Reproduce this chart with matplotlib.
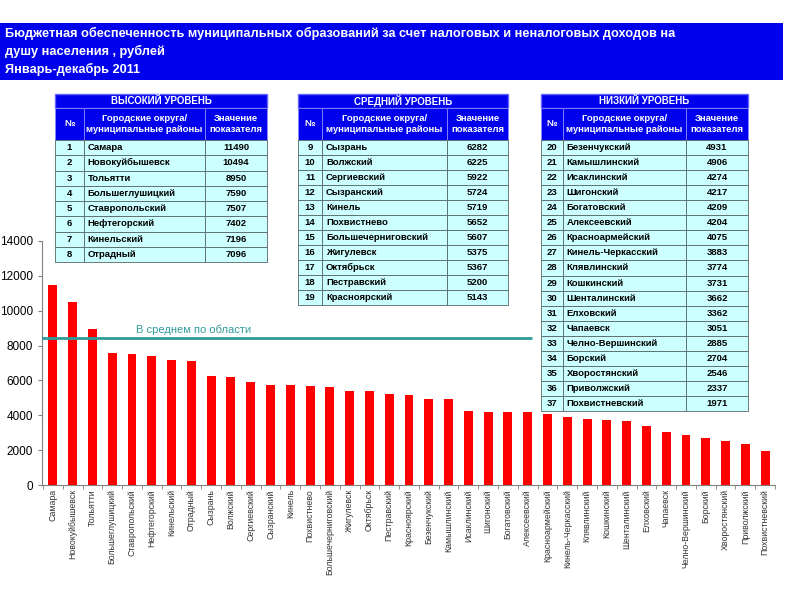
import matplotlib
matplotlib.use("Agg")
import matplotlib.pyplot as plt

plt.rcParams["font.family"] = ["Liberation Sans", "DejaVu Sans"]

# Городские округа / муниципальные районы и значение показателя, руб.
names = ["Самара", "Новокуйбышевск", "Тольятти", "Большеглушицкий", "Ставропольский",
         "Нефтегорский", "Кинельский", "Отрадный", "Сызрань", "Волжский",
         "Сергиевский", "Сызранский", "Кинель", "Похвистнево", "Большечерниговский",
         "Жигулевск", "Октябрьск", "Пестравский", "Красноярский", "Безенчукский",
         "Камышлинский", "Исаклинский", "Шигонский", "Богатовский", "Алексеевский",
         "Красноармейский", "Кинель-Черкасский", "Клявлинский", "Кошкинский",
         "Шенталинский", "Елховский", "Чапаевск", "Челно-Вершинский", "Борский",
         "Хворостянский", "Приволжский", "Похвистневский"]
values = [11490, 10494, 8950, 7590, 7507, 7402, 7196, 7096, 6282, 6225,
          5922, 5724, 5719, 5652, 5607, 5375, 5367, 5200, 5143, 4931,
          4906, 4274, 4217, 4209, 4204, 4075, 3883, 3774, 3731, 3662,
          3362, 3051, 2885, 2704, 2546, 2337, 1971]
mean_value = 8420
mean_label = "В среднем по области"

groups = [("ВЫСОКИЙ УРОВЕНЬ", 0, 8), ("СРЕДНИЙ УРОВЕНЬ", 8, 19), ("НИЗКИЙ УРОВЕНЬ", 19, 37)]
col_labels = ["№", "Городские округа/\nмуниципальные районы", "Значение\nпоказателя"]

title_lines = ("Бюджетная обеспеченность муниципальных образований за счет налоговых и неналоговых доходов на\n"
               "душу населения , рублей\nЯнварь-декабрь 2011")

BLUE = "#0000ee"
CYAN = "#ccffff"
W, H = 800, 600


def px_axes(fig, x0, y0, x1, y1):
    return fig.add_axes([x0 / W, 1 - y1 / H, (x1 - x0) / W, (y1 - y0) / H])


def draw_table(fig, box, title, start, stop, col_w):
    x0, y0, x1, y1 = box
    ax = px_axes(fig, x0, y0, x1, y1)
    ax.axis("off")
    total = y1 - y0
    title_h, head_h = 14, 32
    row_h = (total - title_h - head_h) / (stop - start)

    t = ax.table(cellText=[[title]], cellLoc="center",
                 bbox=[0, 1 - title_h / total, 1, title_h / total])
    t.auto_set_font_size(False)
    t.set_fontsize(7)
    c = t[0, 0]
    c.set_facecolor(BLUE)
    c.set_edgecolor("#6666ff")
    c.get_text().set_color("white")
    c.get_text().set_fontweight("bold")

    rows = [[str(i + 1), names[i], str(values[i])] for i in range(start, stop)]
    tb = ax.table(cellText=rows, colLabels=col_labels, colWidths=col_w,
                  cellLoc="center", bbox=[0, 0, 1, 1 - title_h / total])
    tb.auto_set_font_size(False)
    tb.set_fontsize(6.8)
    for (r, cidx), cell in tb.get_celld().items():
        cell.set_height(head_h if r == 0 else row_h)
        cell.set_linewidth(0.6)
        txt = cell.get_text()
        txt.set_fontweight("bold")
        if r == 0:
            cell.set_facecolor(BLUE)
            cell.set_edgecolor("#8888ff")
            txt.set_color("white")
        else:
            cell.set_facecolor(CYAN)
            cell.set_edgecolor("#556666")
            txt.set_color("black")
            if cidx == 1:
                txt.set_horizontalalignment("left")
                cell.PAD = 0.03


fig = plt.figure(figsize=(8, 6), dpi=100)

# title banner
tax = px_axes(fig, 0, 23, 783, 80)
tax.set_facecolor(BLUE)
tax.set_xticks([])
tax.set_yticks([])
for s in tax.spines.values():
    s.set_visible(False)
tax.text(0.006, 0.5, title_lines, color="white", fontsize=9.2, fontweight="bold",
         va="center", ha="left", linespacing=1.5, transform=tax.transAxes)

# bar chart
ax = px_axes(fig, 42, 241, 775, 485)
x = range(len(values))
ax.bar(x, values, width=0.45, color="#ff0000", zorder=2)
ax.hlines(mean_value, -0.6, 24.2, color="#2f9b9b", linewidth=2, zorder=3)
ax.text(4.2, mean_value + 200, mean_label, color="#2f9b9b", fontsize=8, va="bottom", ha="left")
ax.set_xlim(-0.55, len(values) - 0.5)
ax.set_ylim(0, 14000)
ax.set_yticks(range(0, 14001, 2000))
ax.tick_params(axis="y", labelsize=8.5, length=3, color="#808080")
ax.set_xticks(list(x))
ax.set_xticklabels(names, rotation=90, fontsize=6.3, color="#333333")
ax.tick_params(axis="x", length=0, pad=3)
ax.set_xticks([i + 0.5 for i in range(-1, len(values))], minor=True)
ax.tick_params(axis="x", which="minor", length=3, color="#808080")
for s in ["top", "right"]:
    ax.spines[s].set_visible(False)
for s in ["left", "bottom"]:
    ax.spines[s].set_color("#808080")

# tables
boxes = [(55, 94, 267, 262), (298, 94, 508, 305), (541, 94, 748, 411)]
widths = [[0.137, 0.571, 0.292], [0.115, 0.595, 0.29], [0.107, 0.594, 0.299]]
for (title, a, b), box, cw in zip(groups, boxes, widths):
    draw_table(fig, box, title, a, b, cw)

fig.savefig("out.png", dpi=100)
